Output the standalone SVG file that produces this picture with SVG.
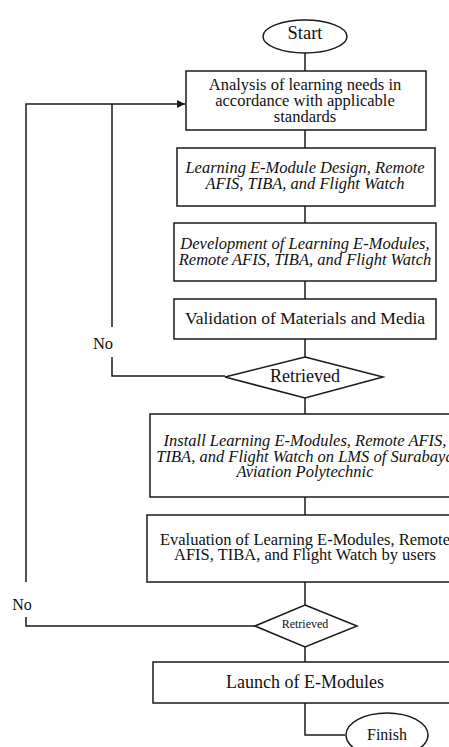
<svg xmlns="http://www.w3.org/2000/svg" width="449" height="747" viewBox="0 0 449 747">
<style>
.s{fill:#fff;stroke:#1a1a1a;stroke-width:1.5}
.c{fill:none;stroke:#1a1a1a;stroke-width:1.5}
text{font-family:"Liberation Serif","Times New Roman",serif;fill:#111;text-anchor:middle}
.i{font-style:italic}
</style>
<defs>
<marker id="ah" viewBox="0 0 10 10" refX="10" refY="5" markerWidth="10" markerHeight="8" markerUnits="userSpaceOnUse" orient="auto">
<path d="M0,0 L10,5 L0,10 z" fill="#1a1a1a"/>
</marker>
</defs>
<rect width="449" height="747" fill="#fff"/>
<g id="connectors">
<line class="c" x1="305" y1="53" x2="305" y2="71"/>
<line class="c" x1="305" y1="130" x2="305" y2="148"/>
<line class="c" x1="305" y1="206" x2="305" y2="223"/>
<line class="c" x1="305" y1="281" x2="305" y2="299"/>
<line class="c" x1="305" y1="339" x2="305" y2="357"/>
<line class="c" x1="305" y1="398" x2="305" y2="414"/>
<line class="c" x1="305" y1="497" x2="305" y2="515"/>
<line class="c" x1="305" y1="582" x2="305" y2="605"/>
<line class="c" x1="305" y1="647" x2="305" y2="662"/>
<polyline class="c" points="305,703 305,735 345,735"/>
<polyline class="c" points="225,376 112,376 112,357"/>
<polyline class="c" points="112,327 112,104"/>
<polyline class="c" points="255,626 26,626 26,617"/>
<polyline class="c" points="26,582 26,104 185,104" marker-end="url(#ah)"/>
<text x="103" y="349" font-size="16.5">No</text>
<text x="22" y="610" font-size="16">No</text>
</g>
<g id="start">
<ellipse class="s" cx="305" cy="36.5" rx="42" ry="16.5"/>
<text x="305" y="39" font-size="18.5">Start</text>
</g>
<g id="analysis">
<rect class="s" x="186" y="71" width="240" height="59"/>
<text x="305" y="90" font-size="16.5">Analysis of learning needs in</text>
<text x="305" y="106" font-size="16.5">accordance with applicable</text>
<text x="305" y="122" font-size="16.5">standards</text>
</g>
<g id="design">
<rect class="s" x="177" y="148" width="258" height="58"/>
<text class="i" x="305" y="173" font-size="16.5">Learning E-Module Design, Remote</text>
<text class="i" x="305" y="189" font-size="16.5">AFIS, TIBA, and Flight Watch</text>
</g>
<g id="development">
<rect class="s" x="174" y="223" width="262" height="58"/>
<text class="i" x="305" y="249" font-size="16.5">Development of Learning E-Modules,</text>
<text class="i" x="305" y="265" font-size="16.5">Remote AFIS, TIBA, and Flight Watch</text>
</g>
<g id="validation">
<rect class="s" x="174" y="299" width="262" height="40"/>
<text x="305" y="324" font-size="17.5">Validation of Materials and Media</text>
</g>
<g id="retrieved1">
<polygon class="s" points="305,357 383,377 305,398 225,377"/>
<text x="305" y="382" font-size="18">Retrieved</text>
</g>
<g id="install">
<rect class="s" x="150" y="414" width="310" height="83"/>
<text class="i" x="305" y="446" font-size="16.5">Install Learning E-Modules, Remote AFIS,</text>
<text class="i" x="305" y="461.5" font-size="16.5">TIBA, and Flight Watch on LMS of Surabaya</text>
<text class="i" x="305" y="477" font-size="16.5">Aviation Polytechnic</text>
</g>
<g id="evaluation">
<rect class="s" x="147" y="515" width="316" height="67"/>
<text x="305" y="544.5" font-size="16.5">Evaluation of Learning E-Modules, Remote</text>
<text x="305" y="560" font-size="16.5">AFIS, TIBA, and Flight Watch by users</text>
</g>
<g id="retrieved2">
<polygon class="s" points="305,605 357,626 305,647 255,626"/>
<text x="305" y="628" font-size="12">Retrieved</text>
</g>
<g id="launch">
<rect class="s" x="153" y="662" width="304" height="41"/>
<text x="305" y="688" font-size="18">Launch of E-Modules</text>
</g>
<g id="finish">
<ellipse class="s" cx="387" cy="735" rx="41" ry="22"/>
<text x="387" y="740" font-size="16">Finish</text>
</g>
</svg>
